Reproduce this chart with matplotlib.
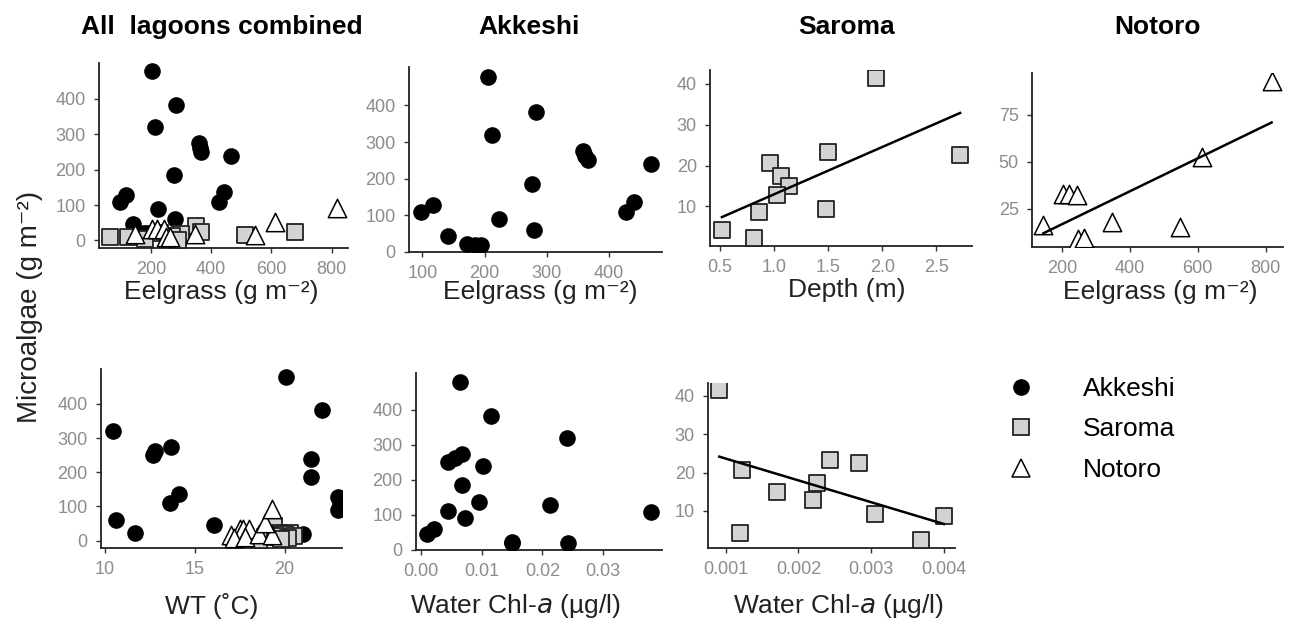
import numpy as np
import matplotlib.pyplot as plt
from matplotlib.lines import Line2D

plt.rcParams['font.family'] = ['Liberation Sans', 'DejaVu Sans']

# Akkeshi samples
ak_micro = [478, 383, 320, 275, 262, 250, 240, 185, 136, 128, 110, 108, 90, 60, 45, 22, 20, 20]
ak_eel = [205, 283, 212, 358, 362, 366, 467, 276, 441, 117, 97, 427, 224, 279, 142, 172, 184, 195]
ak_wt = [20.1, 22.1, 10.46, 13.7, 12.8, 12.7, 21.5, 21.5, 14.1, 23.0, 13.6, 23.1, 23.0, 10.6, 16.1, 11.7, 21.05, 17.8]
ak_chl = [0.0064, 0.0116, 0.0241, 0.0067, 0.0056, 0.0045, 0.0102, 0.0068, 0.0095, 0.0212,
          0.0045, 0.0379, 0.0072, 0.0021, 0.0010, 0.0150, 0.0243, 0.0150]

# Saroma samples
sa_micro = [41.4, 23.4, 22.5, 20.7, 17.4, 15.0, 12.8, 9.3, 8.6, 4.3, 2.3]
sa_eel = [349, 366, 677, 230, 300, 513, 270, 124, 65, 180, 290]
sa_depth = [1.94, 1.50, 2.72, 0.96, 1.07, 1.14, 1.03, 1.48, 0.86, 0.52, 0.82]
sa_wt = [19.4, 20.3, 19.7, 20.0, 19.1, 20.5, 19.5, 18.9, 20.2, 19.8, 18.6]
sa_chl = [0.00091, 0.00243, 0.00284, 0.00123, 0.00225, 0.0017, 0.0022, 0.00306, 0.0040, 0.0012, 0.00369]

# Notoro samples
no_micro = [16.7, 33, 33, 32.6, 9, 9.6, 18, 15.6, 52.5, 93]
no_eel = [146, 205, 220, 244, 249, 264, 347, 547, 611, 817]
no_wt = [17.0, 17.5, 17.7, 18.0, 17.2, 17.8, 18.6, 19.3, 18.9, 19.3]

W, H = 1293, 632
fig = plt.figure(figsize=(W / 100, H / 100), dpi=100)


def make_ax(x0, x1, y0, y1):
    ax = fig.add_axes([x0 / W, 1 - y1 / H, (x1 - x0) / W, (y1 - y0) / H])
    for s in ['top', 'right']:
        ax.spines[s].set_visible(False)
    for s in ['left', 'bottom']:
        ax.spines[s].set_color('#222222')
        ax.spines[s].set_linewidth(1.3)
    ax.tick_params(direction='out', length=3.5, width=1, color='#333333',
                   labelcolor='#8c8c8c', labelsize=13, pad=6)
    return ax


def akk(ax, x, y):
    ax.scatter(x, y, s=120, marker='o', color='black', zorder=3)


def sar(ax, x, y):
    ax.scatter(x, y, s=135, marker='s', facecolor='#d3d3d3', edgecolor='#222222', linewidths=1.3, zorder=4)


def noto(ax, x, y):
    ax.scatter(x, y, s=175, marker='^', facecolor='white', edgecolor='black', linewidths=1.1, zorder=5)


def fit_line(ax, x, y):
    x = np.array(x)
    k, b = np.polyfit(x, y, 1)
    xs = np.array([x.min(), x.max()])
    ax.plot(xs, k * xs + b, color='black', lw=1.8, zorder=6)


# top row
ax1 = make_ax(99, 348, 63, 248)
akk(ax1, ak_eel, ak_micro)
sar(ax1, sa_eel, sa_micro)
noto(ax1, no_eel, no_micro)
ax1.set_xticks([200, 400, 600, 800])
ax1.set_yticks([0, 100, 200, 300, 400])

ax2 = make_ax(409, 662, 67, 252)
akk(ax2, ak_eel, ak_micro)
ax2.set_xticks([100, 200, 300, 400])
ax2.set_yticks([0, 100, 200, 300, 400])
ax2.set_ylim(0, 505)

ax3 = make_ax(710, 972, 70, 246)
sar(ax3, sa_depth, sa_micro)
fit_line(ax3, sa_depth, sa_micro)
ax3.set_xticks([0.5, 1.0, 1.5, 2.0, 2.5])
ax3.set_xticklabels(['0.5', '1.0', '1.5', '2.0', '2.5'])
ax3.set_yticks([10, 20, 30, 40])

ax4 = make_ax(1032, 1283, 73, 247)
noto(ax4, no_eel, no_micro)
fit_line(ax4, no_eel, no_micro)
ax4.set_xticks([200, 400, 600, 800])
ax4.set_yticks([25, 50, 75])

# bottom row
ax5 = make_ax(101, 342, 369, 548)
akk(ax5, ak_wt, ak_micro)
sar(ax5, sa_wt, sa_micro)
noto(ax5, no_wt, no_micro)
ax5.set_xlim(9.78, 23.2)
ax5.set_xticks([10, 15, 20])
ax5.set_yticks([0, 100, 200, 300, 400])

ax6 = make_ax(416, 662, 373, 550)
akk(ax6, ak_chl, ak_micro)
ax6.set_xticks([0.0, 0.01, 0.02, 0.03])
ax6.set_xticklabels(['0.00', '0.01', '0.02', '0.03'])
ax6.set_yticks([0, 100, 200, 300, 400])
ax6.set_ylim(0, 505)

ax7 = make_ax(708, 955, 383, 548)
sar(ax7, sa_chl, sa_micro)
fit_line(ax7, sa_chl, sa_micro)
ax7.set_xticks([0.001, 0.002, 0.003, 0.004])
ax7.set_xticklabels(['0.001', '0.002', '0.003', '0.004'])
ax7.set_yticks([10, 20, 30, 40])

# titles and labels
titles = ['All  lagoons combined', 'Akkeshi', 'Saroma', 'Notoro']
title_x = [222, 529, 847, 1157]
for t, x in zip(titles, title_x):
    fig.text(x / W, 1 - 27 / H, t, ha='center', va='center', fontsize=19, fontweight='bold')

lab = dict(ha='center', va='center', fontsize=19, color='#222222')
eel_lab = 'Eelgrass (g m⁻²)'
fig.text(221 / W, 1 - 292 / H, eel_lab, **lab)
fig.text(540 / W, 1 - 292 / H, eel_lab, **lab)
fig.text(847 / W, 1 - 290 / H, 'Depth (m)', **lab)
fig.text(1160 / W, 1 - 292 / H, eel_lab, **lab)
fig.text(212 / W, 1 - 606 / H, 'WT (˚C)', **lab)
fig.text(515 / W, 1 - 606 / H, 'Water Chl-$\\it{a}$ (µg/l)', **lab)
fig.text(838 / W, 1 - 606 / H, 'Water Chl-$\\it{a}$ (µg/l)', **lab)
fig.text(30 / W, 1 - 307 / H, 'Microalgae (g m⁻²)', rotation=90, ha='center', va='center',
         fontsize=20, color='#222222')

# legend
handles = [
    Line2D([], [], ls='none', marker='o', ms=11, color='black'),
    Line2D([], [], ls='none', marker='s', ms=11.5, markerfacecolor='#d3d3d3', markeredgecolor='#222222', mew=1.3),
    Line2D([], [], ls='none', marker='^', ms=13, markerfacecolor='white', markeredgecolor='black', mew=1.1),
]
fig.legend(handles, ['Akkeshi', 'Saroma', 'Notoro'], loc='upper left',
           bbox_to_anchor=(977 / W, 1 - 353 / H), frameon=False, fontsize=19,
           handlelength=1.5, handletextpad=1.6, labelspacing=0.63)

fig.savefig('out.png', dpi=100)
